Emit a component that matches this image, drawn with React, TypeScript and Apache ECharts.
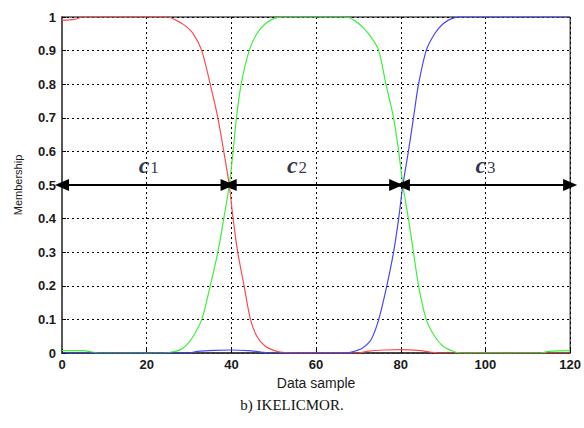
import React, { useEffect, useRef } from "react";
import * as echarts from "echarts";

const xTicks = [0, 20, 40, 60, 80, 100, 120];

const redCurve: [number, number][] = [
  [0, 0.99], [3, 0.993], [5, 1], [25, 1], [27, 0.99], [29, 0.975], [31, 0.95],
  [33, 0.9], [35, 0.8], [36.8, 0.7], [38.2, 0.6], [39.5, 0.5], [40.4, 0.4],
  [41.5, 0.3], [43, 0.2], [44.5, 0.1], [46, 0.05], [48, 0.02], [50, 0.008],
  [52, 0.002], [55, 0], [70, 0], [72, 0.005], [76, 0.009], [80, 0.01],
  [84, 0.008], [87, 0.003], [89, 0], [120, 0],
];

const greenCurve: [number, number][] = [
  [0, 0.007], [5, 0.007], [7, 0.003], [9, 0], [24, 0], [26, 0.003], [28, 0.01],
  [29.5, 0.025], [31, 0.05], [33, 0.1], [35, 0.2], [36.8, 0.3], [38.2, 0.4],
  [39.5, 0.5], [40.4, 0.6], [41.2, 0.7], [42.3, 0.8], [44.2, 0.9], [46, 0.95],
  [48, 0.98], [50, 0.995], [52, 1], [67, 1], [69, 0.99], [71, 0.97], [73, 0.94],
  [74.8, 0.9], [76.5, 0.8], [78.3, 0.7], [79.5, 0.6], [80.5, 0.5], [81.8, 0.4],
  [83, 0.3], [84.2, 0.2], [86, 0.1], [88, 0.05], [90, 0.02], [92, 0.007],
  [94, 0], [113, 0], [115, 0.005], [120, 0.007],
];

const blueCurve: [number, number][] = [
  [0, 0], [30, 0], [32, 0.005], [36, 0.008], [40, 0.009], [44, 0.007],
  [47, 0.003], [49, 0], [67, 0], [69, 0.005], [71, 0.015], [73, 0.04],
  [74.8, 0.1], [76.7, 0.2], [78.3, 0.3], [79.5, 0.4], [80.5, 0.5], [81.8, 0.6],
  [83, 0.7], [84.2, 0.8], [86, 0.9], [88, 0.95], [90, 0.98], [92, 0.995],
  [94, 1], [120, 1],
];

// arrow segments at membership 0.5: [from, to]
const arrowSegments: [number, number][] = [
  [0, 39.1],
  [39.6, 78.9],
  [80.5, 120],
];
const arrowLevel = 0.5;

// cluster labels: [x, y, index]
const clusterLabels: [number, number, string][] = [
  [20.5, 0.56, "1"],
  [55.5, 0.56, "2"],
  [100, 0.56, "3"],
];

const caption = "b) IKELICMOR.";

export default function App() {
  const ref = useRef<HTMLDivElement>(null);
  useEffect(() => {
    document.body.style.margin = "0";
    const chart = echarts.init(ref.current!, null, { renderer: "svg" });
    const axisFont = {
      fontFamily: "Liberation Sans, Arial, sans-serif",
      fontSize: 13,
      fontWeight: "bold" as const,
      color: "#1a1a1a",
    };
    chart.setOption({
      animation: false,
      backgroundColor: "#fff",
      grid: {
        left: 62,
        right: 12,
        top: 17,
        bottom: 75,
        show: true,
        borderColor: "#000",
        borderWidth: 1,
      },
      xAxis: {
        type: "value",
        min: 0,
        max: 120,
        interval: 20,
        name: "Data sample",
        nameLocation: "middle",
        nameGap: 22,
        nameTextStyle: {
          fontFamily: "Liberation Sans, Arial, sans-serif",
          fontSize: 14,
          color: "#1a1a1a",
        },
        axisLine: { show: true, lineStyle: { color: "#333", width: 1.5 } },
        axisTick: { show: true, inside: true, length: 4, lineStyle: { color: "#000" } },
        axisLabel: { ...axisFont, margin: 5 },
        splitLine: {
          show: true,
          lineStyle: { color: "#000", type: [2, 3], width: 1 },
        },
      },
      yAxis: {
        type: "value",
        min: 0,
        max: 1,
        interval: 0.1,
        name: "Membership",
        nameLocation: "middle",
        nameGap: 39,
        nameRotate: 90,
        nameTextStyle: {
          fontFamily: "Liberation Sans, Arial, sans-serif",
          fontSize: 11,
          color: "#1a1a1a",
        },
        axisLine: { show: true, lineStyle: { color: "#555", width: 2 } },
        axisTick: { show: true, inside: true, length: 4, lineStyle: { color: "#000" } },
        axisLabel: {
          ...axisFont,
          margin: 6,
          formatter: (v: number) => String(Math.round(v * 10) / 10),
        },
        splitLine: {
          show: true,
          lineStyle: { color: "#000", type: [2, 3], width: 1 },
        },
      },
      series: [
        {
          type: "line",
          data: redCurve,
          showSymbol: false,
          smooth: 0.3,
          lineStyle: { color: "#ff4a4a", width: 1.2 },
          z: 3,
        },
        {
          type: "line",
          data: greenCurve,
          showSymbol: false,
          smooth: 0.3,
          lineStyle: { color: "#3cf03c", width: 1.2 },
          z: 3,
        },
        {
          type: "line",
          data: blueCurve,
          showSymbol: false,
          smooth: 0.3,
          lineStyle: { color: "#4646ff", width: 1.2 },
          z: 3,
        },
        {
          type: "line",
          data: [],
          markLine: {
            silent: true,
            symbol: ["triangle", "triangle"],
            symbolSize: [12, 14],
            lineStyle: { color: "#000", width: 2, type: "solid" },
            label: { show: false },
            data: arrowSegments.map(([a, b]) => [
              { coord: [a, arrowLevel] },
              { coord: [b, arrowLevel] },
            ]),
          },
          z: 5,
        },
        {
          type: "scatter",
          symbolSize: 0,
          data: clusterLabels.map(([x, y, n]) => [x, y, n]),
          label: {
            show: true,
            position: "inside",
            formatter: (p: any) => `{c|c}{n|${p.value[2]}}`,
            rich: {
              c: {
                fontFamily: "Liberation Serif, Times New Roman, serif",
                fontStyle: "italic",
                fontWeight: "bold",
                fontSize: 24,
                color: "#000018",
              },
              n: {
                fontFamily: "Liberation Serif, Times New Roman, serif",
                fontSize: 17,
                color: "#000018",
                padding: [6, 0, 0, 1],
              },
            },
          },
          z: 6,
        },
      ],
      graphic: [
        {
          type: "text",
          left: "center",
          top: 397,
          style: {
            text: caption,
            fontFamily: "Liberation Serif, Times New Roman, serif",
            fontSize: 15,
            fill: "#111",
          },
        },
      ],
    });
    return () => chart.dispose();
  }, []);
  return <div ref={ref} style={{ width: 584, height: 428 }} />;
}
